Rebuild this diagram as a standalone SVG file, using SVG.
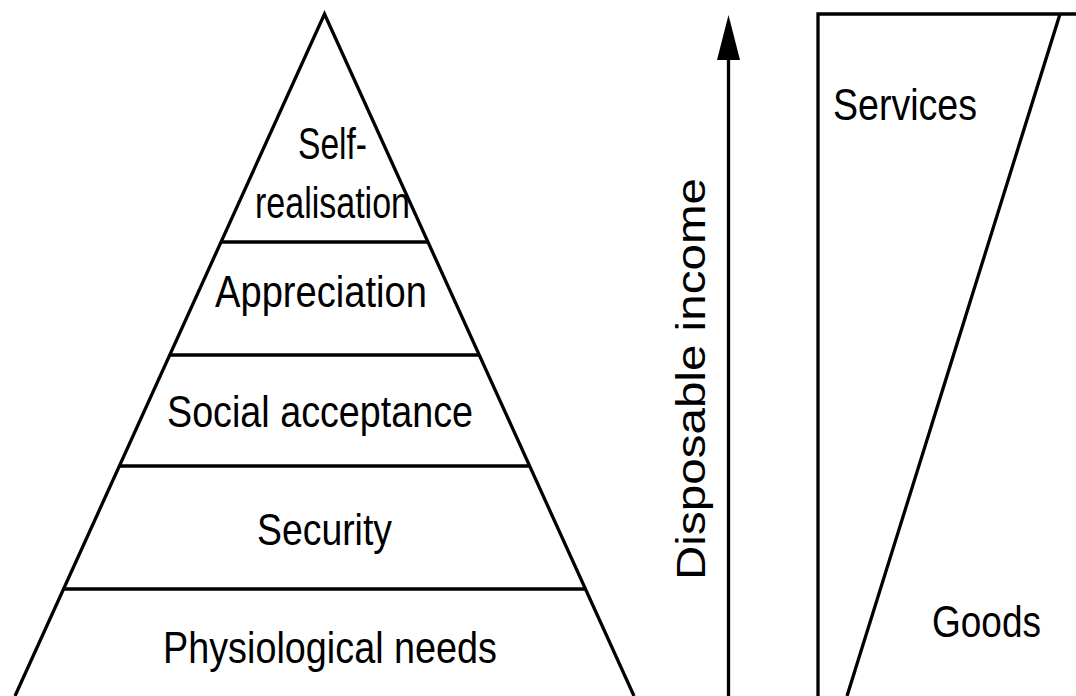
<svg xmlns="http://www.w3.org/2000/svg" width="1076" height="696" viewBox="0 0 1076 696">
  <style>
    .ln { stroke: #000; stroke-width: 3.3; fill: none; stroke-linecap: butt; }
    .lbl { font-family: "Liberation Sans", Arial, sans-serif; font-size: 44px; fill: #000; }
  </style>
  <rect x="0" y="0" width="1076" height="696" fill="#fff"/>

  <!-- Hierarchy of needs pyramid -->
  <g id="pyramid">
    <polyline class="ln" points="15,696 324.5,14 634,696"/>
    <line class="ln" x1="222" y1="242" x2="427" y2="242"/>
    <line class="ln" x1="170" y1="355" x2="479" y2="355"/>
    <line class="ln" x1="119" y1="466" x2="530" y2="466"/>
    <line class="ln" x1="64" y1="589" x2="585" y2="589"/>
  </g>
  <g id="level-self-realisation">
    <text class="lbl" x="298" y="159" textLength="69" lengthAdjust="spacingAndGlyphs">Self-</text>
    <text class="lbl" x="255" y="218" textLength="155" lengthAdjust="spacingAndGlyphs">realisation</text>
  </g>
  <g id="level-appreciation">
    <text class="lbl" x="215" y="307" textLength="212" lengthAdjust="spacingAndGlyphs">Appreciation</text>
  </g>
  <g id="level-social">
    <text class="lbl" x="167" y="427" textLength="306" lengthAdjust="spacingAndGlyphs">Social acceptance</text>
  </g>
  <g id="level-security">
    <text class="lbl" x="257" y="545" textLength="135" lengthAdjust="spacingAndGlyphs">Security</text>
  </g>
  <g id="level-physiological">
    <text class="lbl" x="163" y="663" textLength="334" lengthAdjust="spacingAndGlyphs">Physiological needs</text>
  </g>

  <!-- Income axis -->
  <g id="connectors">
    <line class="ln" x1="728.5" y1="58" x2="728.5" y2="696"/>
    <polygon points="728.5,15 717,60 740,60" fill="#000"/>
  </g>
  <g id="axis-label">
    <text class="lbl" transform="translate(705,580) rotate(-90)" x="0" y="0" textLength="402" lengthAdjust="spacingAndGlyphs" style="font-size:41px">Disposable income</text>
  </g>

  <!-- Spending split: services vs goods -->
  <g id="spending">
    <polyline class="ln" points="818,696 818,14 1076,14"/>
    <line class="ln" x1="1060" y1="14" x2="847" y2="696"/>
  </g>
  <g id="services">
    <text class="lbl" x="833" y="120" textLength="144" lengthAdjust="spacingAndGlyphs">Services</text>
  </g>
  <g id="goods">
    <text class="lbl" x="932" y="637" textLength="109" lengthAdjust="spacingAndGlyphs">Goods</text>
  </g>
</svg>
